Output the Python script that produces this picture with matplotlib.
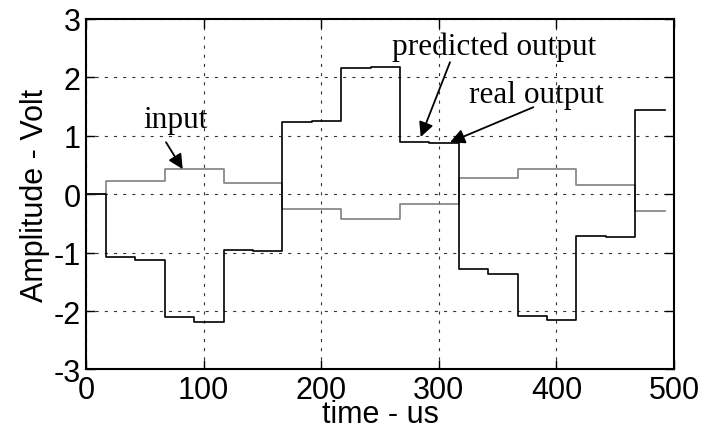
import matplotlib
matplotlib.use("Agg")
import matplotlib.pyplot as plt
import numpy as np

plt.rcParams['lines.scale_dashes'] = False

# step edges (us)
t_edges = [0, 17, 42, 67, 92, 117, 142, 167, 192, 217, 242, 267, 292, 317,
           342, 367, 392, 417, 442, 467, 492]
# output level on each interval (volts)
output_levels = [0.0, -1.07, -1.12, -2.10, -2.19, -0.95, -0.97, 1.23, 1.25,
                 2.16, 2.18, 0.90, 0.87, -1.28, -1.36, -2.08, -2.16, -0.71,
                 -0.73, 1.45]
# input level on each interval
input_levels = [0.0, 0.22, 0.22, 0.43, 0.43, 0.20, 0.20, -0.25, -0.25,
                -0.43, -0.43, -0.17, -0.17, 0.27, 0.27, 0.43, 0.43, 0.15,
                0.15, -0.29]

xticks = [0, 100, 200, 300, 400, 500]
yticks = [-3, -2, -1, 0, 1, 2, 3]

# annotation labels: (text, text position, arrow tail, arrow tip)
labels = ['input', 'predicted output', 'real output']
label_pos = [(75.7, 1.15), (346.8, 2.40), (383.0, 1.575)]
arrow_tail = [(68.0, 0.89), (309.5, 2.26), (380.4, 1.49)]
arrow_tip = [(82.2, 0.43), (284.6, 0.98), (309.5, 0.89)]

fig = plt.figure(figsize=(7.04, 4.31), dpi=100)
ax = fig.add_axes([0.1222, 0.1404, 0.8352, 0.8132])

sans = ['Liberation Sans', 'DejaVu Sans']
serif = ['Liberation Serif', 'DejaVu Serif']

t = np.array(t_edges)
inp = np.array(input_levels + [input_levels[-1]])
out = np.array(output_levels + [output_levels[-1]])

ax.plot(t, inp, drawstyle='steps-post', color='#808080', lw=1.2, zorder=3)
ax.plot(t, out, drawstyle='steps-post', color='black', lw=1.2, zorder=4)

ax.set_xlim(0, 500)
ax.set_ylim(-3, 3)
ax.set_xticks(xticks)
ax.set_yticks(yticks)
ax.set_xticklabels([str(v) for v in xticks], family=sans, fontsize=22)
ax.set_yticklabels([str(v) for v in yticks], family=sans, fontsize=22)
ax.tick_params(direction='in', length=6.5, width=1.0, top=True, right=True,
               pad=4, colors='black')
ax.grid(True, color='#333333', lw=0.8, linestyle=(0, (2.2, 4.4)))
for s in ax.spines.values():
    s.set_linewidth(1.5)

ax.set_xlabel('time - us', family=sans, fontsize=22, labelpad=-4)
ax.set_ylabel('Amplitude - Volt', family=sans, fontsize=22, labelpad=2)

arrow = dict(arrowstyle='-|>', color='black', lw=1.3, mutation_scale=22,
             shrinkA=0, shrinkB=0)
for txt, pos, tail, tip in zip(labels, label_pos, arrow_tail, arrow_tip):
    ax.text(pos[0], pos[1], txt, fontsize=22.5, family=serif,
            ha='center', va='baseline', zorder=6)
    ax.annotate('', xy=tip, xytext=tail, arrowprops=arrow, zorder=6)

fig.savefig('out.png', dpi=100)
